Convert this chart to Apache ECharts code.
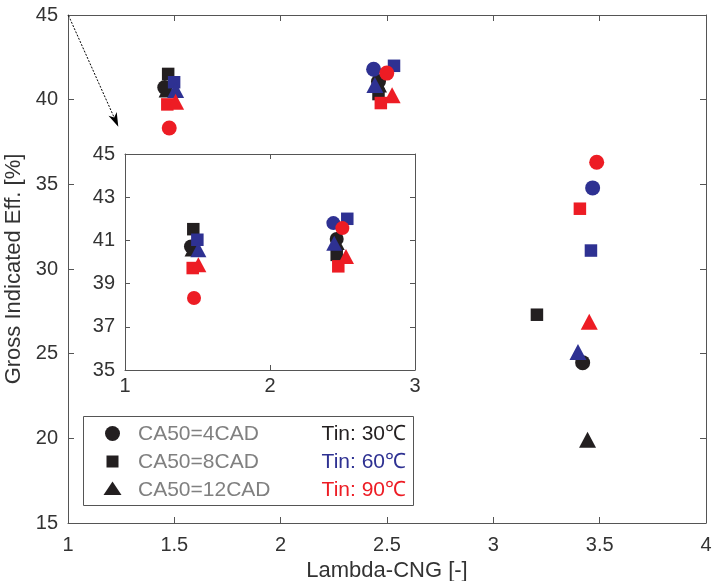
<!DOCTYPE html>
<html>
<head>
<meta charset="utf-8">
<script src="https://cdn.jsdelivr.net/npm/echarts@6/dist/echarts.min.js"></script>
<style>
html,body{margin:0;padding:0;background:#fff;}
#chart{width:712px;height:581px;}
</style>
</head>
<body>
<div id="chart"></div>
<script>
// ---- data (Lambda-CNG, Gross Indicated Eff. %) ----
const ca4_tin30  = [[1.455, 40.72], [2.46, 41.07], [3.42, 24.47]];
const ca4_tin60  = [[2.437, 41.8], [3.467, 34.79]];
const ca4_tin90  = [[1.476, 38.33], [2.499, 41.57], [3.486, 36.3]];
const ca8_tin30  = [[1.471, 41.52], [2.46, 40.33], [3.205, 27.3]];
const ca8_tin60  = [[1.499, 41.03], [2.533, 42.0], [3.459, 31.09]];
const ca8_tin90  = [[1.467, 39.72], [2.471, 39.8], [3.407, 33.56]];
const ca12_tin30 = [[1.466, 40.6], [2.46, 40.9], [3.443, 19.91]];
const ca12_tin60 = [[1.506, 40.57], [2.443, 40.87], [3.398, 25.1]];
const ca12_tin90 = [[1.506, 39.87], [2.524, 40.26], [3.451, 26.88]];

const ca50Labels = ['CA50=4CAD', 'CA50=8CAD', 'CA50=12CAD'];
const tinLabels  = ['Tin: 30\u2103', 'Tin: 60\u2103', 'Tin: 90\u2103'];
const insetYTicks = [35, 37, 39, 41, 43, 45];

const BLACK = '#231f20', BLUE = '#2e3192', RED = '#ed1c24';
const FONT = "'Liberation Sans', Arial, Helvetica, sans-serif";
const AX = '#555';
const LBL = '#333';
const TICK_FS = 20, TITLE_FS = 22, LEG_FS = 21;

// draw order: per Tin, square, triangle, circle
const groups = [
  {data: ca8_tin30,  shape: 'rect',     color: BLACK},
  {data: ca12_tin30, shape: 'triangle', color: BLACK},
  {data: ca4_tin30,  shape: 'circle',   color: BLACK},
  {data: ca8_tin60,  shape: 'rect',     color: BLUE},
  {data: ca12_tin60, shape: 'triangle', color: BLUE},
  {data: ca4_tin60,  shape: 'circle',   color: BLUE},
  {data: ca8_tin90,  shape: 'rect',     color: RED},
  {data: ca12_tin90, shape: 'triangle', color: RED},
  {data: ca4_tin90,  shape: 'circle',   color: RED}
];
const mainSize  = {circle: 15, rect: 12.5, triangle: [17, 16]};
const insetSize = {circle: 14, rect: 12.5, triangle: [16, 15]};

const series = [];
groups.forEach(g => {
  series.push({
    type: 'scatter', xAxisIndex: 0, yAxisIndex: 0,
    symbol: g.shape, symbolSize: mainSize[g.shape],
    itemStyle: {color: g.color, opacity: 1},
    emphasis: {disabled: true}, silent: true,
    data: g.data
  });
  series.push({
    type: 'scatter', xAxisIndex: 2, yAxisIndex: 2,
    symbol: g.shape, symbolSize: insetSize[g.shape],
    itemStyle: {color: g.color, opacity: 1},
    emphasis: {disabled: true}, silent: true,
    z: 5,
    data: g.data.filter(p => p[0] <= 3)
  });
});

const axLine = {show: true, lineStyle: {color: AX, width: 1}};
const lblStyle = {color: LBL, fontSize: TICK_FS, fontFamily: FONT};

function ax(grid, pos, min, max, interval, showLabel, tickLen, margin) {
  return {
    type: 'value', gridIndex: grid, position: pos, min, max, interval,
    axisLine: axLine, splitLine: {show: false},
    axisTick: {show: true, inside: true, length: tickLen, lineStyle: {color: AX}},
    axisLabel: Object.assign({show: showLabel, margin: margin}, lblStyle)
  };
}

const option = {
  animation: false,
  backgroundColor: '#fff',
  grid: [
    {left: 68, top: 15, width: 638, height: 508, containLabel: false, outerBoundsMode: 'none'},
    {left: 125, top: 154, width: 290, height: 216, show: true, backgroundColor: '#fff', borderWidth: 0, z: 3, containLabel: false, outerBoundsMode: 'none'}
  ],
  xAxis: [
    Object.assign(ax(0, 'bottom', 1, 4, 0.5, true, 6, 12), {
      name: 'Lambda-CNG [-]', nameLocation: 'middle', nameGap: 33,
      nameTextStyle: {color: LBL, fontSize: TITLE_FS, fontFamily: FONT}
    }),
    ax(0, 'top', 1, 4, 0.5, false, 6, 12),
    Object.assign(ax(1, 'bottom', 1, 3, 1, true, 5, 6), {z: 4}),
    Object.assign(ax(1, 'top', 1, 3, 1, false, 5, 6), {z: 4})
  ],
  yAxis: [
    Object.assign(ax(0, 'left', 15, 45, 5, true, 6, 10), {
      name: 'Gross Indicated Eff. [%]', nameLocation: 'middle', nameGap: 37,
      nameTextStyle: {color: LBL, fontSize: TITLE_FS, fontFamily: FONT}
    }),
    ax(0, 'right', 15, 45, 5, false, 6, 10),
    {
      type: 'value', gridIndex: 1, position: 'left', min: 35, max: 45, z: 4,
      axisLine: axLine, splitLine: {show: false},
      axisTick: {show: true, inside: true, length: 5, lineStyle: {color: AX}, customValues: insetYTicks},
      axisLabel: Object.assign({show: true, margin: 10, customValues: insetYTicks}, lblStyle)
    },
    {
      type: 'value', gridIndex: 1, position: 'right', min: 35, max: 45, z: 4,
      axisLine: axLine, splitLine: {show: false},
      axisTick: {show: true, inside: true, length: 5, lineStyle: {color: AX}, customValues: insetYTicks},
      axisLabel: {show: false, customValues: insetYTicks}
    }
  ],
  series: series,
  graphic: [
    // legend box
    {type: 'rect', shape: {x: 83.5, y: 416.5, width: 330, height: 89},
     style: {fill: '#fff', stroke: AX, lineWidth: 1}, z: 10},
    {type: 'circle', shape: {cx: 112.5, cy: 433.5, r: 7.5}, style: {fill: BLACK}, z: 11},
    {type: 'rect', shape: {x: 106.5, y: 455.5, width: 12, height: 12}, style: {fill: BLACK}, z: 11},
    {type: 'polygon', shape: {points: [[112.5, 481.5], [121.5, 495], [103.5, 495]]}, style: {fill: BLACK}, z: 11},
    {type: 'text', x: 138, y: 434, style: {text: ca50Labels[0], fill: '#808080', font: LEG_FS + 'px ' + FONT, verticalAlign: 'middle'}, z: 11},
    {type: 'text', x: 138, y: 462, style: {text: ca50Labels[1], fill: '#808080', font: LEG_FS + 'px ' + FONT, verticalAlign: 'middle'}, z: 11},
    {type: 'text', x: 138, y: 490, style: {text: ca50Labels[2], fill: '#808080', font: LEG_FS + 'px ' + FONT, verticalAlign: 'middle'}, z: 11},
    {type: 'text', x: 406, y: 434, style: {text: tinLabels[0], fill: BLACK, font: LEG_FS + 'px ' + FONT, align: 'right', verticalAlign: 'middle'}, z: 11},
    {type: 'text', x: 406, y: 462, style: {text: tinLabels[1], fill: BLUE, font: LEG_FS + 'px ' + FONT, align: 'right', verticalAlign: 'middle'}, z: 11},
    {type: 'text', x: 406, y: 490, style: {text: tinLabels[2], fill: RED, font: LEG_FS + 'px ' + FONT, align: 'right', verticalAlign: 'middle'}, z: 11},
    // dotted arrow
    {type: 'polyline', shape: {points: [[68.5, 15.5], [114.2, 117.6]]},
     style: {stroke: '#000', lineWidth: 1, lineDash: [2, 1.5], fill: null}, z: 12},
    {type: 'polygon', shape: {points: [[118.3, 126.7], [116.7, 112.1], [114.2, 117.6], [108.5, 115.7]]},
     style: {fill: '#000'}, z: 12}
  ]
};

const chart = echarts.init(document.getElementById('chart'), null, {renderer: 'canvas'});
chart.setOption(option);
</script>
</body>
</html>
